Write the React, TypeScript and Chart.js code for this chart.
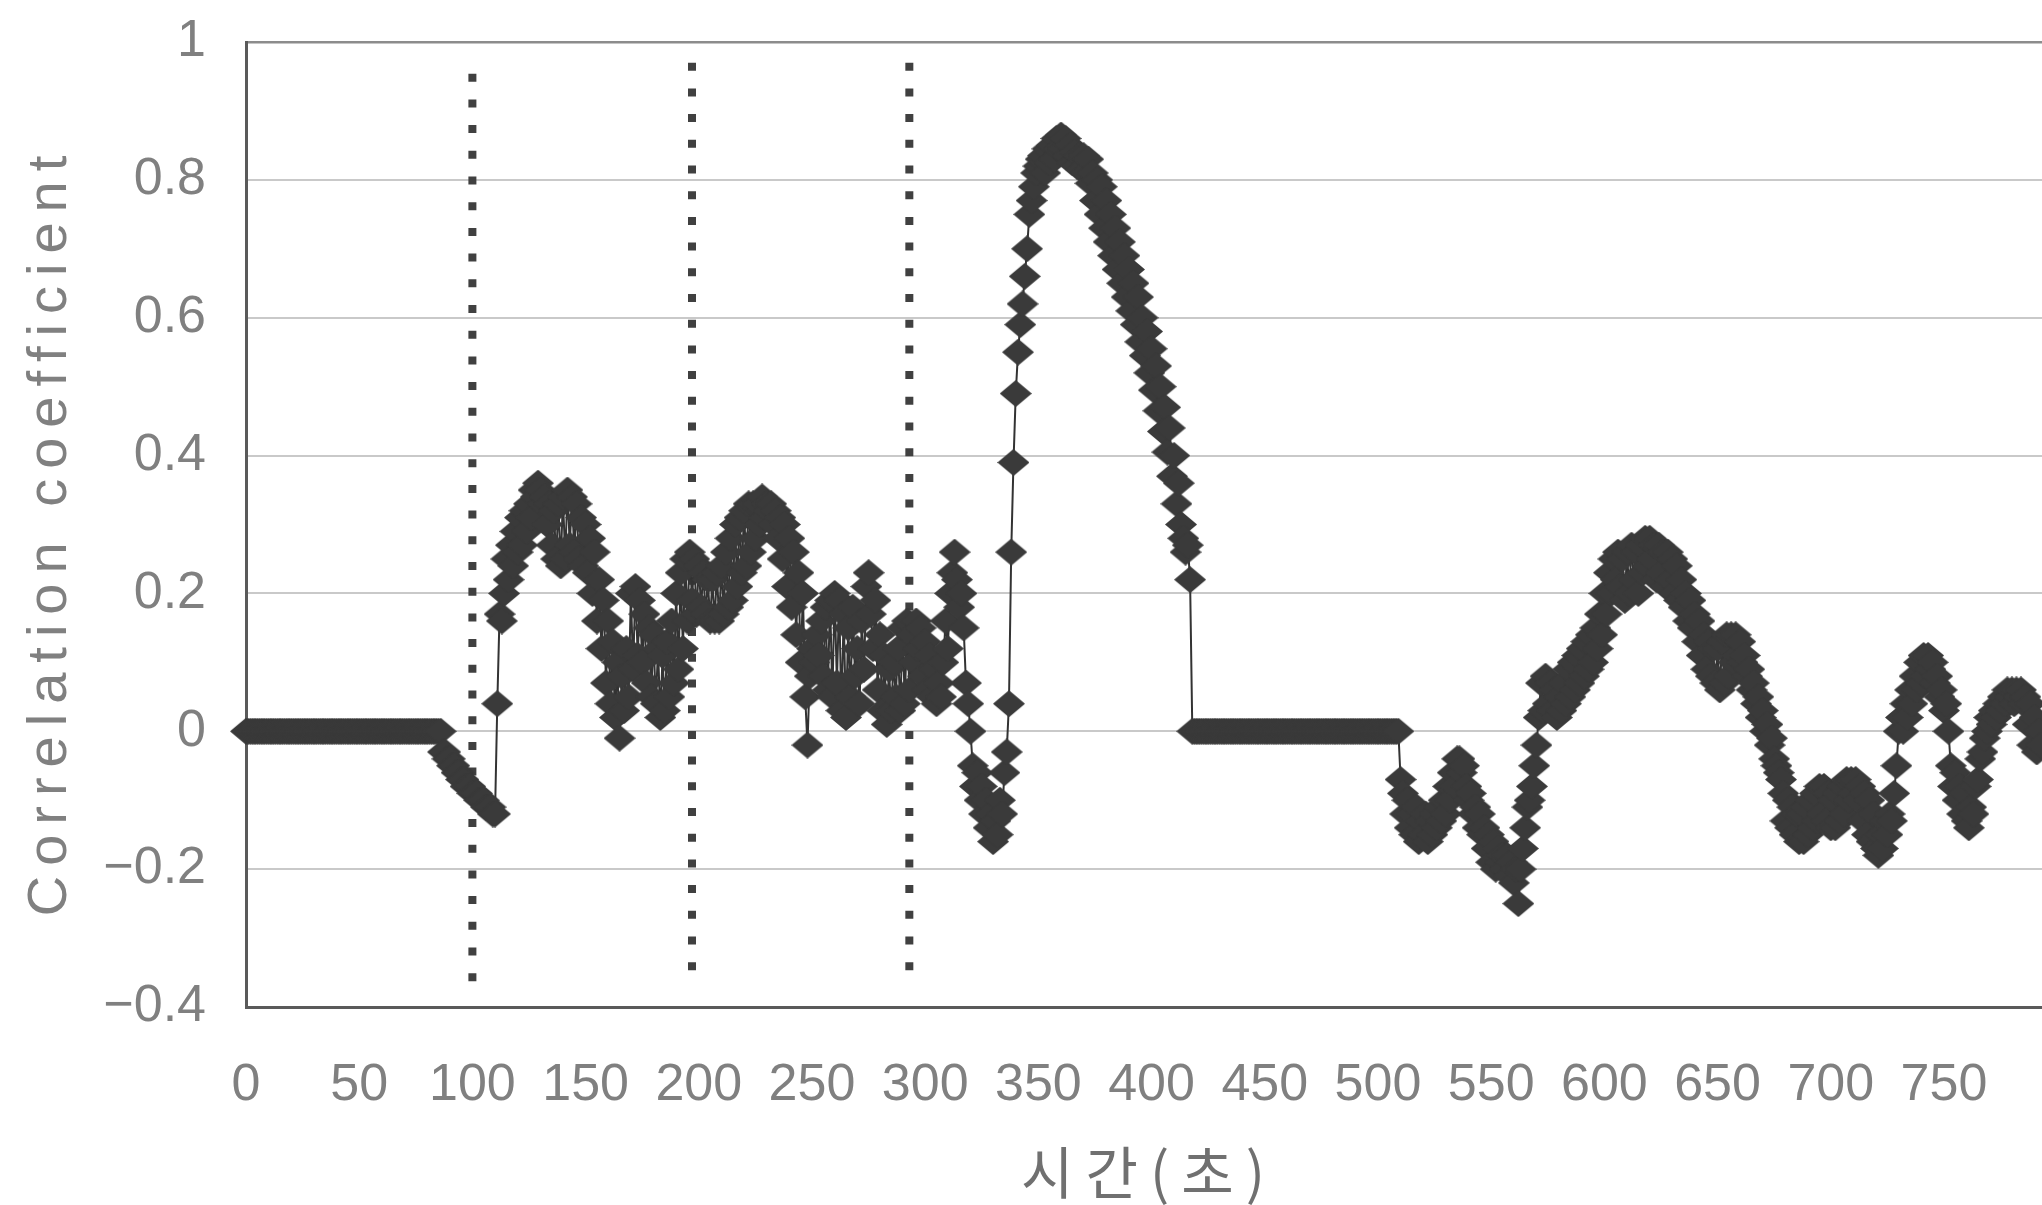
import React, { useEffect, useRef } from 'react';
import { Chart, registerables } from 'chart.js';

Chart.register(...registerables);

const CANVAS_W = 2042;
const CANVAS_H = 1205;

const xTitle = '시간(초)';
const yTitle = 'Correlation coefficient';

const xMin = 0;
const xMax = 793.3;
const xTickStep = 50;
const yMin = -0.4;
const yMax = 1;
const yTickStep = 0.2;

// hand-drawn dotted marker lines (time, top value, bottom value)
const markerTimes = [100, 197, 293];
const markerTop = [0.954, 0.97, 0.97];
const markerBottom = [-0.383, -0.364, -0.364];

// correlation coefficient, one value per second
const seg000 = [
  0, 0, 0, 0, 0, 0, 0, 0, 0, 0,
  0, 0, 0, 0, 0, 0, 0, 0, 0, 0,
  0, 0, 0, 0, 0, 0, 0, 0, 0, 0,
  0, 0, 0, 0, 0, 0, 0, 0, 0, 0,
  0, 0, 0, 0, 0, 0, 0, 0, 0, 0,
  0, 0, 0, 0, 0, 0, 0, 0, 0, 0,
  0, 0, 0, 0, 0, 0, 0, 0, 0, 0,
  0, 0, 0, 0, 0, 0, 0, 0, 0, 0,
  0, 0, 0, 0, 0, 0, 0, -0.03, -0.03, -0.04,
  -0.04, -0.05, -0.05, -0.06, -0.06, -0.07, -0.07, -0.08, -0.08, -0.08,
];
const seg100 = [
  -0.09, -0.09, -0.09, -0.10, -0.10, -0.10, -0.11, -0.11, -0.11, -0.12,
  -0.12, 0.04, 0.17, 0.16, 0.2, 0.25, 0.22, 0.27, 0.24, 0.29,
  0.26, 0.31, 0.27, 0.32, 0.29, 0.33, 0.31, 0.35, 0.34, 0.36,
  0.35, 0.33, 0.34, 0.3, 0.33, 0.27, 0.32, 0.25, 0.33, 0.24,
  0.34, 0.25, 0.35, 0.27, 0.34, 0.26, 0.33, 0.25, 0.31, 0.24,
  0.3, 0.23, 0.28, 0.2, 0.26, 0.16, 0.22, 0.12, 0.19, 0.07,
  0.16, 0.04, 0.13, 0.02, 0.1, -0.01, 0.08, 0.03, 0.12, 0.05,
  0.2, 0.09, 0.21, 0.11, 0.19, 0.1, 0.17, 0.07, 0.15, 0.05,
  0.14, 0.04, 0.12, 0.02, 0.11, 0.03, 0.13, 0.05, 0.16, 0.07,
  0.2, 0.09, 0.23, 0.12, 0.25, 0.16, 0.26, 0.19, 0.25, 0.17,
];
const seg200 = [
  0.24, 0.18, 0.23, 0.17, 0.22, 0.16, 0.22, 0.16, 0.23, 0.16,
  0.24, 0.17, 0.26, 0.18, 0.28, 0.19, 0.3, 0.21, 0.31, 0.23,
  0.32, 0.24, 0.33, 0.26, 0.33, 0.28, 0.33, 0.3, 0.34, 0.31,
  0.33, 0.32, 0.33, 0.3, 0.32, 0.28, 0.31, 0.25, 0.3, 0.21,
  0.28, 0.18, 0.26, 0.14, 0.23, 0.1, 0.2, 0.05, -0.02, 0.08,
  0.12, 0.1, 0.14, 0.11, 0.16, 0.08, 0.18, 0.06, 0.19, 0.05,
  0.2, 0.07, 0.19, 0.03, 0.17, 0.02, 0.15, 0.05, 0.18, 0.08,
  0.12, 0.04, 0.16, 0.09, 0.21, 0.23, 0.17, 0.12, 0.19, 0.06,
  0.14, 0.03, 0.11, 0.01, 0.09, 0.03, 0.1, 0.05, 0.12, 0.03,
  0.15, 0.04, 0.16, 0.06, 0.14, 0.1, 0.16, 0.12, 0.15, 0.08,
];
const seg300 = [
  0.13, 0.06, 0.11, 0.05, 0.09, 0.04, 0.07, 0.05, 0.1, 0.16,
  0.12, 0.2, 0.23, 0.26, 0.22, 0.18, 0.2, 0.15, 0.07, 0.04,
  0, -0.05, -0.08, -0.06, -0.1, -0.08, -0.12, -0.1, -0.14, -0.12,
  -0.16, -0.13, -0.15, -0.1, -0.12, -0.06, -0.03, 0.04, 0.26, 0.39,
  0.49, 0.55, 0.59, 0.62, 0.66, 0.7, 0.75, 0.77, 0.79, 0.81,
  0.82, 0.83, 0.835, 0.81, 0.845, 0.825, 0.85, 0.83, 0.86, 0.845,
  0.865, 0.845, 0.86, 0.835, 0.85, 0.825, 0.84, 0.82, 0.835, 0.815,
  0.835, 0.81, 0.83, 0.795, 0.81, 0.77, 0.8, 0.75, 0.79, 0.73,
  0.77, 0.71, 0.75, 0.69, 0.73, 0.67, 0.71, 0.65, 0.69, 0.63,
  0.67, 0.61, 0.65, 0.59, 0.63, 0.565, 0.6, 0.545, 0.58, 0.52,
];
const seg400 = [
  0.555, 0.495, 0.53, 0.465, 0.5, 0.435, 0.47, 0.405, 0.44, 0.37,
  0.4, 0.33, 0.36, 0.3, 0.28, 0.26, 0.27, 0.22, 0, 0,
  0, 0, 0, 0, 0, 0, 0, 0, 0, 0,
  0, 0, 0, 0, 0, 0, 0, 0, 0, 0,
  0, 0, 0, 0, 0, 0, 0, 0, 0, 0,
  0, 0, 0, 0, 0, 0, 0, 0, 0, 0,
  0, 0, 0, 0, 0, 0, 0, 0, 0, 0,
  0, 0, 0, 0, 0, 0, 0, 0, 0, 0,
  0, 0, 0, 0, 0, 0, 0, 0, 0, 0,
  0, 0, 0, 0, 0, 0, 0, 0, 0, 0,
];
const seg500 = [
  0, 0, 0, 0, 0, 0, 0, 0, 0, 0,
  -0.07, -0.09, -0.12, -0.1, -0.14, -0.12, -0.15, -0.11, -0.16, -0.13,
  -0.15, -0.12, -0.16, -0.13, -0.15, -0.12, -0.14, -0.11, -0.13, -0.1,
  -0.12, -0.08, -0.1, -0.06, -0.08, -0.04, -0.04, -0.06, -0.05, -0.08,
  -0.1, -0.09, -0.12, -0.11, -0.14, -0.12, -0.15, -0.14, -0.17, -0.15,
  -0.19, -0.16, -0.2, -0.17, -0.19, -0.18, -0.2, -0.18, -0.21, -0.19,
  -0.22, -0.2, -0.25, -0.2, -0.17, -0.14, -0.11, -0.1, -0.08, -0.05,
  -0.02, 0.02, 0.07, 0.03, 0.08, 0.04, 0.07, 0.03, 0.06, 0.02,
  0.05, 0.03, 0.07, 0.04, 0.09, 0.05, 0.1, 0.06, 0.11, 0.07,
  0.12, 0.08, 0.13, 0.09, 0.14, 0.1, 0.15, 0.12, 0.17, 0.14,
];
const seg600 = [
  0.2, 0.17, 0.23, 0.2, 0.25, 0.22, 0.26, 0.21, 0.25, 0.19,
  0.26, 0.2, 0.27, 0.22, 0.26, 0.2, 0.27, 0.23, 0.28, 0.24,
  0.28, 0.25, 0.27, 0.22, 0.27, 0.23, 0.26, 0.21, 0.26, 0.22,
  0.25, 0.2, 0.24, 0.19, 0.22, 0.18, 0.2, 0.16, 0.19, 0.15,
  0.17, 0.13, 0.16, 0.11, 0.14, 0.09, 0.13, 0.08, 0.12, 0.07,
  0.12, 0.06, 0.13, 0.07, 0.14, 0.08, 0.14, 0.1, 0.14, 0.11,
  0.13, 0.1, 0.11, 0.08, 0.09, 0.06, 0.07, 0.04, 0.05, 0.02,
  0.03, 0, 0.01, -0.02, -0.01, -0.04, -0.05, -0.06, -0.07, -0.09,
  -0.13, -0.1, -0.14, -0.11, -0.15, -0.12, -0.16, -0.12, -0.16, -0.11,
  -0.15, -0.1, -0.14, -0.09, -0.13, -0.08, -0.12, -0.08, -0.13, -0.09,
];
const seg700 = [
  -0.14, -0.1, -0.14, -0.09, -0.13, -0.08, -0.12, -0.07, -0.1, -0.07,
  -0.09, -0.07, -0.1, -0.08, -0.13, -0.09, -0.15, -0.1, -0.16, -0.12,
  -0.17, -0.18, -0.15, -0.17, -0.13, -0.15, -0.12, -0.13, -0.09, -0.05,
  0, 0.02, 0, 0.04, 0.02, 0.06, 0.04, 0.08, 0.06, 0.1,
  0.07, 0.11, 0.08, 0.11, 0.09, 0.1, 0.07, 0.08, 0.05, 0.06,
  0.03, 0.04, 0, -0.05, -0.08, -0.06, -0.1, -0.08, -0.12, -0.09,
  -0.13, -0.14, -0.11, -0.12, -0.08, -0.07, -0.04, -0.03, -0.01, 0,
  0.02, 0.01, 0.03, 0.02, 0.04, 0.03, 0.05, 0.04, 0.06, 0.05,
  0.06, 0.04, 0.06, 0.05, 0.06, 0.04, 0.05, 0.01, 0.04, -0.02,
  0.02, -0.03, 0, -0.02,
];

const segmentStarts = [0, 100, 200, 300, 400, 500, 600, 700];
const segmentValues = [seg000, seg100, seg200, seg300, seg400, seg500, seg600, seg700];

const TICK_FONT = "'Liberation Sans Narrow', 'Liberation Sans', Arial, sans-serif";
const TEXT_GRAY = '#808080';
const MARK_COLOR = '#3a3a3a';

function formatY(v: number): string {
  const r = Math.round(v * 10) / 10;
  if (r === 0) return '0';
  if (r < 0) return '\u2212' + String(Math.abs(r));
  return String(r);
}

const axisTitlePlugin = {
  id: 'axisTitlePlugin',
  afterDraw(chart: any) {
    const ctx = chart.ctx as CanvasRenderingContext2D;
    // y title
    ctx.save();
    ctx.fillStyle = TEXT_GRAY;
    ctx.textAlign = 'center';
    ctx.textBaseline = 'middle';
    ctx.font = `56px ${TICK_FONT}`;
    (ctx as any).letterSpacing = '10px';
    ctx.translate(51, 531);
    ctx.rotate(-Math.PI / 2);
    ctx.fillText(yTitle, 0, 0);
    ctx.restore();
    // x title
    ctx.save();
    ctx.fillStyle = '#707070';
    ctx.textAlign = 'center';
    ctx.textBaseline = 'middle';
    ctx.font = "57px 'Noto Sans CJK KR', 'Noto Sans', sans-serif";
    (ctx as any).letterSpacing = '12px';
    ctx.fillText(xTitle, 1149, 1172);
    ctx.restore();
  },
};

export default function App() {
  const canvasRef = useRef<HTMLCanvasElement | null>(null);

  useEffect(() => {
    const canvas = canvasRef.current;
    if (!canvas) return;

    // diamond marker (wider than tall, as in the picture)
    const diamond = document.createElement('canvas');
    diamond.width = 32;
    diamond.height = 27;
    const dctx = diamond.getContext('2d');
    if (dctx) {
      dctx.fillStyle = MARK_COLOR;
      dctx.beginPath();
      dctx.moveTo(16, 0);
      dctx.lineTo(32, 13.5);
      dctx.lineTo(16, 27);
      dctx.lineTo(0, 13.5);
      dctx.closePath();
      dctx.fill();
    }

    const points: { x: number; y: number }[] = [];
    segmentValues.forEach((vals, s) => {
      vals.forEach((v, i) => points.push({ x: segmentStarts[s] + i, y: v }));
    });

    const markerSets = markerTimes.map((t, i) => ({
      label: 'marker' + i,
      data: [
        { x: t, y: markerTop[i] },
        { x: t, y: markerBottom[i] },
      ],
      borderColor: '#404040',
      borderWidth: 8,
      borderDash: [8, 17.7],
      borderCapStyle: 'butt' as const,
      pointRadius: 0,
      fill: false,
      order: 5,
      clip: false as any,
    }));

    const chart = new Chart(canvas, {
      type: 'line',
      data: {
        datasets: [
          {
            label: 'Correlation coefficient',
            data: points,
            borderColor: '#333333',
            borderWidth: 2,
            pointStyle: diamond as any,
            pointRadius: 12,
            pointBackgroundColor: MARK_COLOR,
            pointBorderColor: MARK_COLOR,
            tension: 0,
            fill: false,
            order: 1,
            clip: false as any,
          },
          ...markerSets,
        ],
      },
      options: {
        animation: false,
        responsive: false,
        devicePixelRatio: 1,
        events: [],
        layout: { autoPadding: false, padding: { top: 42, right: 0, bottom: 0, left: 0 } },
        plugins: {
          legend: { display: false },
          tooltip: { enabled: false },
        },
        scales: {
          x: {
            type: 'linear',
            min: xMin,
            max: xMax,
            afterFit: (s: any) => {
              s.height = CANVAS_H - 1007;
              s.paddingLeft = 0;
              s.paddingRight = 0;
            },
            border: { display: true, color: '#5a5a5a', width: 3 },
            grid: { display: false, drawTicks: false },
            ticks: {
              stepSize: xTickStep,
              includeBounds: false,
              autoSkip: false,
              maxRotation: 0,
              padding: 47,
              color: TEXT_GRAY,
              font: { family: TICK_FONT, size: 52 },
              callback: (v: any) => String(v),
            },
          },
          y: {
            type: 'linear',
            min: yMin,
            max: yMax,
            afterFit: (s: any) => {
              s.width = 246;
              s.paddingTop = 0;
              s.paddingBottom = 0;
            },
            border: { display: true, color: '#5a5a5a', width: 3 },
            grid: {
              drawTicks: false,
              color: (c: any) => (c.tick && Math.abs(c.tick.value - 1) < 1e-6 ? '#8c8c8c' : '#c9c9c9'),
              lineWidth: (c: any) => (c.tick && Math.abs(c.tick.value - 1) < 1e-6 ? 2.5 : 2),
            },
            ticks: {
              stepSize: yTickStep,
              padding: 40,
              color: TEXT_GRAY,
              font: { family: TICK_FONT, size: 52 },
              callback: (v: any) => formatY(Number(v)),
            },
          },
        },
      },
      plugins: [axisTitlePlugin],
    });

    return () => {
      chart.destroy();
    };
  }, []);

  return (
    <div style={{ position: 'absolute', left: 0, top: 0, width: CANVAS_W, height: CANVAS_H, background: '#ffffff' }}>
      <canvas ref={canvasRef} width={CANVAS_W} height={CANVAS_H} style={{ display: 'block' }} />
    </div>
  );
}
